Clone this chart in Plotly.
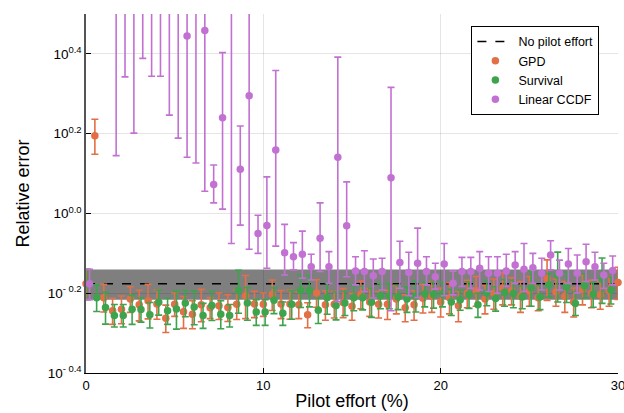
import plotly.graph_objects as go

# Pilot effort grid (% of the total budget)
pilot_effort = [0.0, 0.5, 1.0, 1.5, 2.0, 2.5, 3.0, 3.5, 4.0, 4.5,
                5.0, 5.5, 6.0, 6.5, 7.0, 7.5, 8.0, 8.5, 9.0, 9.5,
                10.0, 10.5, 11.0, 11.5, 12.0, 12.5, 13.0, 13.5, 14.0, 14.5,
                15.0, 15.5, 16.0, 16.5, 17.0, 17.5, 18.0, 18.5, 19.0, 19.5,
                20.0, 20.5, 21.0, 21.5, 22.0, 22.5, 23.0, 23.5, 24.0, 24.5,
                25.0, 25.5, 26.0, 26.5, 27.0, 27.5, 28.0, 28.5, 29.0, 29.5,
                30.0]

# Reference level without any pilot run (mean and spread)
no_pilot_mean = 0.666
no_pilot_sd = 0.058

# GPD estimator: mean relative error and error-bar half width
gpd_mean = [0.666, 1.565, 0.615, 0.570, 0.575, 0.610, 0.590, 0.604, 0.593, 0.546,
            0.592, 0.567, 0.559, 0.590, 0.580, 0.587, 0.581, 0.592, 0.622, 0.593,
            0.592, 0.626, 0.593, 0.593, 0.590, 0.557, 0.632, 0.590, 0.592, 0.598,
            0.585, 0.627, 0.600, 0.592, 0.592, 0.610, 0.580, 0.590, 0.613, 0.620,
            0.600, 0.615, 0.587, 0.630, 0.640, 0.610, 0.630, 0.650, 0.640, 0.620,
            0.640, 0.615, 0.685, 0.635, 0.620, 0.600, 0.645, 0.630, 0.625, 0.640,
            0.671]
gpd_err = [0.058, 0.158, 0.049, 0.043, 0.046, 0.045, 0.052, 0.060, 0.050, 0.043,
           0.040, 0.052, 0.045, 0.055, 0.035, 0.045, 0.045, 0.050, 0.077, 0.045,
           0.040, 0.055, 0.048, 0.050, 0.045, 0.040, 0.050, 0.050, 0.045, 0.050,
           0.045, 0.050, 0.048, 0.045, 0.050, 0.050, 0.045, 0.050, 0.050, 0.055,
           0.050, 0.055, 0.052, 0.050, 0.055, 0.050, 0.055, 0.060, 0.050, 0.055,
           0.055, 0.045, 0.080, 0.050, 0.055, 0.050, 0.055, 0.050, 0.050, 0.055,
           0.062]

# Survival estimator
surv_mean = [0.666, 0.615, 0.581, 0.555, 0.555, 0.575, 0.574, 0.557, 0.599, 0.570,
             0.576, 0.596, 0.583, 0.555, 0.588, 0.559, 0.555, 0.641, 0.596, 0.566,
             0.566, 0.606, 0.562, 0.592, 0.641, 0.641, 0.572, 0.615, 0.588, 0.596,
             0.615, 0.615, 0.599, 0.622, 0.622, 0.617, 0.610, 0.621, 0.628, 0.626,
             0.628, 0.600, 0.607, 0.626, 0.590, 0.632, 0.612, 0.634, 0.630, 0.617,
             0.651, 0.617, 0.662, 0.700, 0.655, 0.595, 0.659, 0.627, 0.684, 0.643]
surv_err = [0.058, 0.047, 0.053, 0.036, 0.036, 0.048, 0.040, 0.041, 0.043, 0.043,
            0.063, 0.045, 0.057, 0.040, 0.049, 0.045, 0.036, 0.079, 0.056, 0.042,
            0.042, 0.045, 0.038, 0.049, 0.060, 0.058, 0.042, 0.056, 0.047, 0.041,
            0.045, 0.042, 0.050, 0.045, 0.045, 0.043, 0.045, 0.055, 0.045, 0.047,
            0.045, 0.045, 0.035, 0.048, 0.041, 0.045, 0.043, 0.049, 0.050, 0.040,
            0.066, 0.043, 0.045, 0.100, 0.057, 0.040, 0.046, 0.045, 0.089, 0.050]

# Linear CCDF estimator: mean with lower / upper interval bounds
ccdf_mean = [0.666, 5.600, 5.200, 4.500, 4.200, 4.000, 3.900, 3.700, 3.800, 3.500,
             3.400, 2.786, 3.600, 2.873, 1.182, 1.738, 3.300, 1.291, 1.972, 0.891,
             0.933, 1.442, 0.797, 0.779, 0.790, 0.735, 0.866, 0.735, 1.383, 0.931,
             0.717, 0.715, 0.698, 0.715, 1.228, 0.753, 0.711, 0.750, 0.715, 0.694,
             0.747, 0.668, 0.715, 0.715, 0.729, 0.708, 0.708, 0.717, 0.743, 0.725,
             0.731, 0.708, 0.787, 0.708, 0.747, 0.708, 0.757, 0.735, 0.701, 0.719]
ccdf_low = [0.608, 3.700, 3.500, 1.396, 2.200, 1.590, 2.448, 2.208, 2.208, 1.764,
            1.545, 1.383, 1.338, 1.137, 1.063, 1.025, 0.841, 0.935, 0.813, 0.794,
            0.729, 0.828, 0.701, 0.722, 0.688, 0.681, 0.715, 0.668, 0.601, 0.694,
            0.662, 0.637, 0.614, 0.643, 0.570, 0.649, 0.622, 0.615, 0.662, 0.646,
            0.622, 0.625, 0.656, 0.649, 0.643, 0.637, 0.631, 0.656, 0.668, 0.637,
            0.668, 0.643, 0.722, 0.643, 0.668, 0.632, 0.675, 0.681, 0.649, 0.662]
ccdf_high = [0.724, 7.500, 6.900, 7.600, 6.200, 6.400, 5.350, 5.200, 5.400, 5.240,
             5.260, 4.190, 5.860, 4.610, 1.323, 2.530, 5.760, 1.656, 3.400, 0.990,
             1.235, 2.282, 0.939, 0.845, 0.903, 0.790, 1.063, 0.802, 2.465, 1.200,
             0.779, 0.806, 0.769, 0.772, 2.070, 0.852, 0.799, 0.919, 0.779, 0.750,
             0.841, 0.717, 0.776, 0.776, 0.802, 0.779, 0.779, 0.790, 0.802, 0.841,
             0.794, 0.772, 0.854, 0.764, 0.817, 0.787, 0.837, 0.799, 0.750, 0.782]

# Axis ticks
x_ticks = [0, 10, 20, 30]
y_tick_exponents = [-0.4, -0.2, 0.0, 0.2, 0.4]
y_tick_labels = ["10<sup>- 0.4</sup>", "10<sup>- 0.2</sup>", "10<sup>0.0</sup>",
                 "10<sup>0.2</sup>", "10<sup>0.4</sup>"]

ORANGE = "#e26f46"
GREEN = "#3da44d"
PURPLE = "#c271d2"

x_min, x_max = pilot_effort[0], pilot_effort[-1]

fig = go.Figure()

# Spread of the no-pilot reference as a shaded band
band_hi = no_pilot_mean + no_pilot_sd
band_lo = no_pilot_mean - no_pilot_sd
fig.add_trace(go.Scatter(
    x=[x_min, x_max, x_max, x_min], y=[band_hi, band_hi, band_lo, band_lo],
    fill="toself", fillcolor="rgba(0,0,0,0.5)", mode="lines",
    line=dict(width=0), showlegend=False, hoverinfo="skip"))

fig.add_trace(go.Scatter(
    x=[x_min, x_max], y=[no_pilot_mean, no_pilot_mean], mode="lines",
    line=dict(color="black", dash="dash", width=1.5), name="No pilot effort"))


def dodge(values, shift, n):
    return [v + shift for v in values[:n]]


fig.add_trace(go.Scatter(
    x=dodge(pilot_effort, 0.0, len(gpd_mean)), y=gpd_mean, mode="markers",
    name="GPD", cliponaxis=False,
    marker=dict(color=ORANGE, size=7.5, line=dict(width=0)),
    error_y=dict(type="data", array=gpd_err, color=ORANGE, thickness=1.6, width=3.5)))

fig.add_trace(go.Scatter(
    x=dodge(pilot_effort, 0.1, len(surv_mean)), y=surv_mean, mode="markers",
    name="Survival",
    marker=dict(color=GREEN, size=7.5, line=dict(width=0)),
    error_y=dict(type="data", array=surv_err, color=GREEN, thickness=1.6, width=3.5)))

fig.add_trace(go.Scatter(
    x=dodge(pilot_effort, 0.2, len(ccdf_mean)), y=ccdf_mean, mode="markers",
    name="Linear CCDF",
    marker=dict(color=PURPLE, size=7.5, line=dict(width=0)),
    error_y=dict(type="data", symmetric=False,
                 array=[h - m for h, m in zip(ccdf_high, ccdf_mean)],
                 arrayminus=[m - l for m, l in zip(ccdf_mean, ccdf_low)],
                 color=PURPLE, thickness=1.6, width=3.5)))

fig.update_layout(
    width=624, height=413,
    margin=dict(l=86, r=6, t=14, b=40, autoexpand=False),
    paper_bgcolor="white", plot_bgcolor="white",
    font=dict(family="Liberation Sans, Arial, sans-serif", size=13, color="black"),
    legend=dict(x=0.965, y=0.967, xanchor="right", yanchor="top",
                bordercolor="black", borderwidth=1, bgcolor="white",
                font=dict(size=12.5), tracegroupgap=0, itemwidth=36),
)

fig.update_xaxes(
    range=[x_min, x_max], tickvals=x_ticks, showgrid=True,
    gridcolor="rgba(0,0,0,0.1)", gridwidth=1, zeroline=False,
    showline=True, linecolor="black", linewidth=1,
    ticks="inside", ticklen=5, tickcolor="black",
    tickfont=dict(size=13), ticklabeloverflow="allow",
    title=dict(text="Pilot effort (%)", font=dict(size=18), standoff=2),
)

fig.update_yaxes(
    type="log", range=[-0.4, 0.5],
    tickvals=[10 ** e for e in y_tick_exponents], ticktext=y_tick_labels,
    showgrid=True, gridcolor="rgba(0,0,0,0.1)", gridwidth=1, zeroline=False,
    showline=True, linecolor="#555555", linewidth=1.5,
    ticks="inside", ticklen=5, tickcolor="black",
    tickfont=dict(size=13.5), ticklabeloverflow="allow",
    title=dict(text="Relative error", font=dict(size=18), standoff=13),
)

fig.write_html("out.html")
